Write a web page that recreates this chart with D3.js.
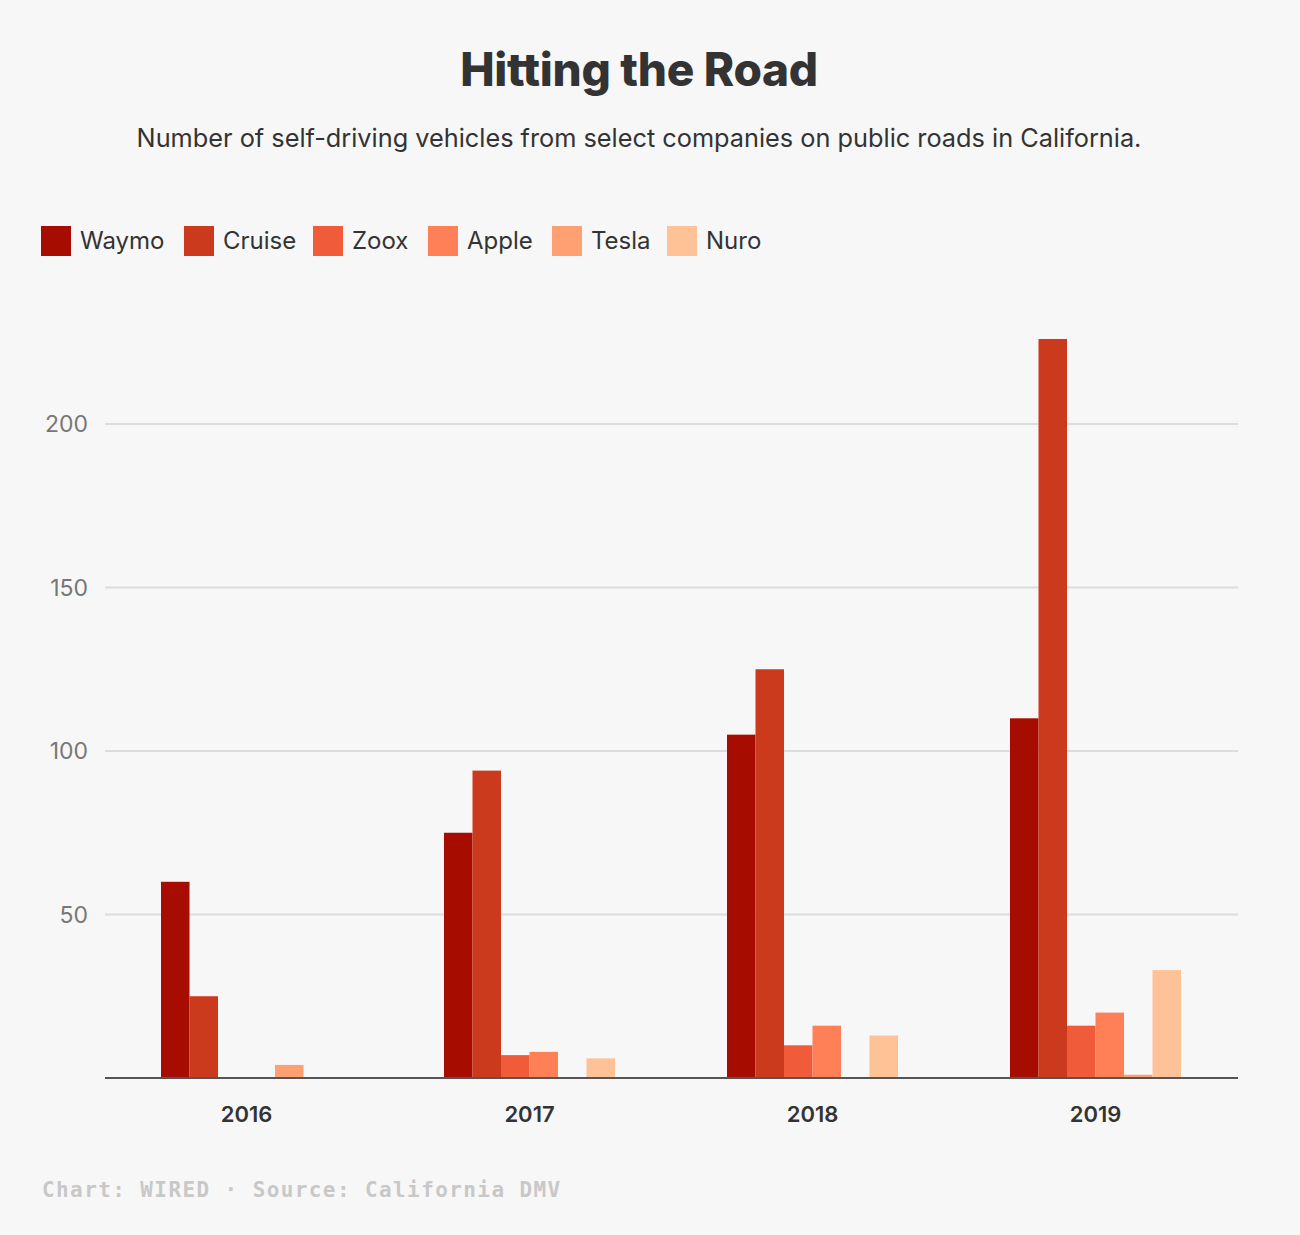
<!DOCTYPE html>
<html><head><meta charset="utf-8">
<script src="https://cdn.jsdelivr.net/npm/d3@7"></script>
<style>
html,body{margin:0;padding:0;background:#f7f7f7;}
svg{display:block;}
</style></head>
<body>
<script>
const years = ["2016","2017","2018","2019"];
const companies = ["Waymo","Cruise","Zoox","Apple","Tesla","Nuro"];
const colors = ["#a60c00","#cb3a1d","#f05c3a","#ff7f56","#ffa072","#ffc296"];
const waymo  = [60, 75, 105, 110];
const cruise = [25, 94, 125, 226];
const zoox   = [0, 7, 10, 16];
const apple  = [0, 8, 16, 20];
const tesla  = [4, 0, 0, 1];
const nuro   = [0, 6, 13, 33];
const yTicks = [50, 100, 150, 200];

const seriesValues = [waymo, cruise, zoox, apple, tesla, nuro];
const data = years.map((y,i)=>({year:y, values:companies.map((c,j)=>({company:c, value:seriesValues[j][i], color:colors[j]}))}));

const W=1300,H=1235;
const svg=d3.select("body").append("svg").attr("width",W).attr("height",H);
svg.append("rect").attr("width",W).attr("height",H).attr("fill","#f7f7f7");

const sans="Inter, 'Noto Sans', sans-serif";
svg.append("text").attr("x",639).attr("y",86).attr("text-anchor","middle")
  .attr("font-family",sans).attr("font-weight",800).attr("font-size",46).attr("fill","#333")
  .attr("letter-spacing",-0.3).text("Hitting the Road");
svg.append("text").attr("x",639).attr("y",147).attr("text-anchor","middle")
  .attr("font-family",sans).attr("font-size",25.3).attr("fill","#333")
  .text("Number of self-driving vehicles from select companies on public roads in California.");

// legend
const legX=[41,184,313,428,552,667];
const leg=svg.append("g");
companies.forEach((c,i)=>{
  const g=leg.append("g").attr("transform",`translate(${legX[i]},226)`);
  g.append("rect").attr("width",30).attr("height",30).attr("fill",colors[i]);
  g.append("text").attr("x",39).attr("y",23).attr("font-family",sans).attr("font-size",24)
   .attr("fill","#333").text(c);
});

const x0=d3.scaleBand().domain(years).range([105,1237]).padding(0);
const x1=d3.scaleBand().domain(companies).range([0,x0.bandwidth()]).paddingInner(0).paddingOuter(1.965);
const y=d3.scaleLinear().domain([0,200]).range([1078,424]);

// grid
const grid=svg.append("g");
grid.selectAll("line").data(yTicks).join("line")
  .attr("x1",105).attr("x2",1238).attr("y1",d=>y(d)).attr("y2",d=>y(d))
  .attr("stroke","#dcdcdc").attr("stroke-width",2);
grid.selectAll("text").data(yTicks).join("text")
  .attr("x",88).attr("y",d=>y(d)+8).attr("text-anchor","end")
  .attr("font-family",sans).attr("font-size",23).attr("fill","#777").text(d=>d);

// bars
const groups=svg.append("g").selectAll("g").data(data).join("g")
  .attr("transform",d=>`translate(${x0(d.year)},0)`);
groups.selectAll("rect").data(d=>d.values.filter(v=>v.value>0)).join("rect")
  .attr("x",d=>x1(d.company)).attr("width",x1.bandwidth())
  .attr("y",d=>y(d.value)).attr("height",d=>y(0)-y(d.value))
  .attr("fill",d=>d.color);

// baseline
svg.append("line").attr("x1",105).attr("x2",1238).attr("y1",1078).attr("y2",1078)
  .attr("stroke","#555").attr("stroke-width",2);

// x labels
const xAxis=d3.axisBottom(x0).tickSize(0).tickPadding(0);
const xa=svg.append("g").attr("transform","translate(0,1122)").call(xAxis);
xa.select(".domain").remove();
xa.selectAll("text").attr("font-family",sans).attr("font-weight",600).attr("font-size",22)
  .attr("fill","#333").attr("dy",0).attr("y",0);

// footer
svg.append("text").attr("x",42).attr("y",1197)
  .attr("font-family","'DejaVu Sans Mono', 'Liberation Mono', monospace").attr("font-weight",700)
  .attr("font-size",21).attr("letter-spacing",1.4).attr("fill","#c8c8c8")
  .text("Chart: WIRED · Source: California DMV");
</script>
</body></html>
